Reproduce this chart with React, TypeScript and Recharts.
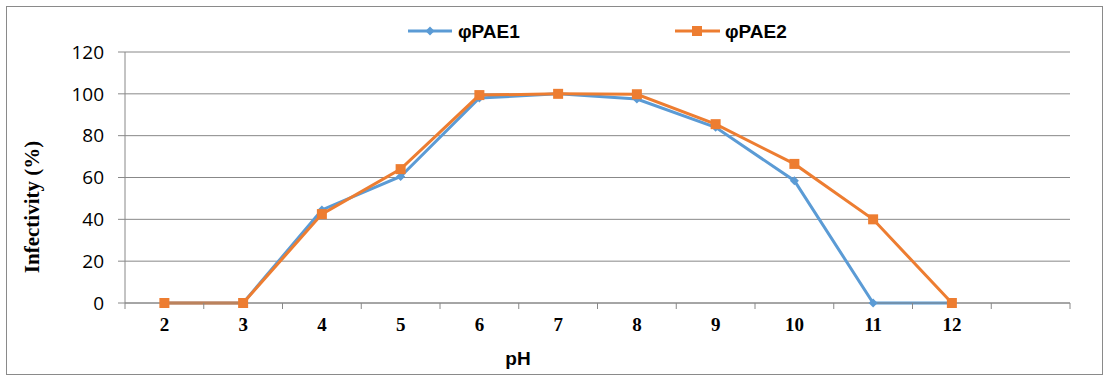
import { LineChart, Line, XAxis, YAxis, CartesianGrid } from 'recharts'

// pH on the x axis; last band (13) is an empty slot like the original
const phValues = [2, 3, 4, 5, 6, 7, 8, 9, 10, 11, 12]
const pae1 = [0, 0, 44.5, 60.5, 98, 100, 97.5, 84, 58.5, 0, 0]
const pae2 = [0, 0, 42.5, 64, 99.4, 100, 99.8, 85.5, 66.5, 40, 0]
const yTicks = [0, 20, 40, 60, 80, 100, 120]
const bandEdges = [1.5, 2.5, 3.5, 4.5, 5.5, 6.5, 7.5, 8.5, 9.5, 10.5, 11.5, 12.5, 13.5]

const BLUE = '#5B9BD5'
const ORANGE = '#ED7D31'
const GRID = '#888888'

const data = phValues.map((ph, i) => ({ ph, pae1: pae1[i], pae2: pae2[i] }))
const xTicks = [...bandEdges, ...phValues].sort((a, b) => a - b)

function PhTick(props: any) {
  const { x, y, payload } = props
  const v = payload.value
  if (!Number.isInteger(v)) {
    return <line x1={x} x2={x} y1={y} y2={y + 6} stroke={GRID} strokeWidth={1} />
  }
  return (
    <text x={x} y={y + 28} textAnchor="middle" fill="#000"
      style={{ fontFamily: '"Liberation Serif", serif', fontWeight: 700, fontSize: 19 }}>
      {v}
    </text>
  )
}

function Diamond({ cx, cy }: any) {
  if (cx == null || cy == null) return null
  const r = 4.5
  return <path d={`M${cx},${cy - r}L${cx + r},${cy}L${cx},${cy + r}L${cx - r},${cy}Z`} fill={BLUE} />
}

function Square({ cx, cy }: any) {
  if (cx == null || cy == null) return null
  const s = 10
  return <rect x={cx - s / 2} y={cy - s / 2} width={s} height={s} fill={ORANGE} />
}

const sansBold: React.CSSProperties = {
  fontFamily: '"Liberation Sans", Arial, sans-serif', fontWeight: 700, fontSize: 19, fill: '#000',
}

export default function App() {
  return (
    <div style={{ position: 'absolute', left: 0, top: 0, width: 1106, height: 377, background: '#fff' }}>
      <div style={{
        position: 'absolute', left: 6, top: 6, width: 1097, height: 369,
        border: '1px solid #8a8a8a', boxSizing: 'border-box',
      }} />
      <div style={{ position: 'absolute', left: 0, top: 0 }}>
        <LineChart width={1106} height={377} data={data}
          margin={{ top: 52, right: 36, left: 65, bottom: 34 }}>
          <CartesianGrid vertical={false} stroke={GRID} strokeWidth={1} />
          <XAxis dataKey="ph" type="number" domain={[1.5, 13.5]} ticks={xTicks} interval={0}
            height={40} tickLine={false} tickSize={0} tickMargin={0}
            axisLine={{ stroke: GRID }} tick={<PhTick />} />
          <YAxis domain={[0, 120]} ticks={yTicks} interval={0} width={60}
            tickSize={7} tickMargin={14} tickLine={{ stroke: GRID }} axisLine={{ stroke: GRID }}
            tick={{ fill: '#000', fontSize: 19, fontFamily: '"Open Sans", sans-serif' }} />
          <Line dataKey="pae1" stroke={BLUE} strokeWidth={3} dot={<Diamond />} activeDot={false}
            isAnimationActive={false} />
          <Line dataKey="pae2" stroke={ORANGE} strokeWidth={3} dot={<Square />} activeDot={false}
            isAnimationActive={false} />
        </LineChart>
      </div>
      <svg width={1106} height={377} style={{ position: 'absolute', left: 0, top: 0, pointerEvents: 'none' }}>
        <line x1={408} x2={452} y1={31} y2={31} stroke={BLUE} strokeWidth={3} />
        <Diamond cx={430} cy={31} />
        <text x={458} y={38} style={sansBold}>φPAE1</text>
        <line x1={675} x2={720} y1={31} y2={31} stroke={ORANGE} strokeWidth={3} />
        <Square cx={697} cy={31} />
        <text x={725} y={38} style={sansBold}>φPAE2</text>
        <text x={518} y={365} textAnchor="middle" style={sansBold}>pH</text>
        <text x={32} y={207} textAnchor="middle" dominantBaseline="central" fill="#000"
          transform="rotate(-90, 32, 207)"
          style={{ fontFamily: '"Liberation Serif", serif', fontWeight: 700, fontSize: 21 }}>Infectivity (%)</text>
      </svg>
    </div>
  )
}
